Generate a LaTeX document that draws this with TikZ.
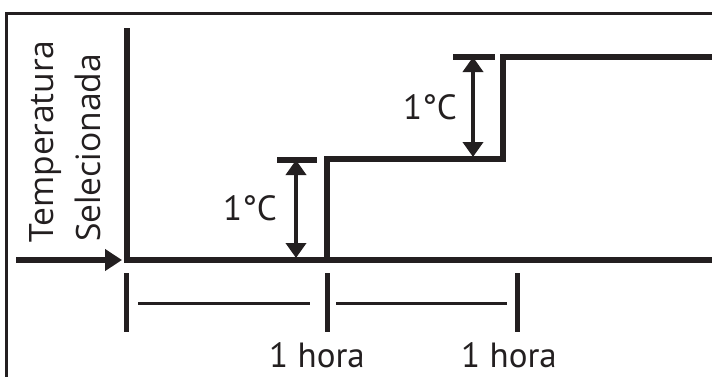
\documentclass[tikz,border=0pt]{standalone}
\usepackage{fontspec}
\setmainfont{PT Sans}
\newfontfamily\axisfont{Open Sans}
\usetikzlibrary{arrows.meta}
\definecolor{ink}{RGB}{35,31,32}

\begin{document}
\begin{tikzpicture}[x=1pt,y=-1pt]
        \tikzset{curve/.style={ink, line width=5.5pt, line join=miter},
                 tick/.style={ink, line width=5pt},
                 span/.style={ink, line width=3pt},
                 bar/.style={ink, line width=6pt},
                 dim/.style={{Triangle[length=15pt, width=20pt]}-{Triangle[length=15pt, width=20pt]}, ink, line width=4pt},
                 hourlabel/.style={ink, inner sep=0pt, font=\fontsize{35}{40}\selectfont}}
        \useasboundingbox (0,0) rectangle (712,376);
        % frame
        \draw[ink, line width=3pt] (6.5,380) -- (6.5,13) -- (716,13);
        % axis and setpoint steps
        \coordinate (origin) at (127,260);
        \draw[curve] (127,28) -- (origin) -- (712,260);
        \draw[curve] (327,260) -- (327,159) -- (503,159) -- (503,57) -- (712,57);
        % input arrow
        \coordinate (in) at (16,260);
        \draw[ink, line width=5.5pt, -{Triangle[length=17pt, width=21pt]}] (in) -- (122,260);
        \node[ink, rotate=90, anchor=base west, inner sep=0pt, font=\axisfont\fontsize{33.6}{40}\selectfont] (temp) at (53,243) {Temperatura};
        \node[ink, rotate=90, anchor=base west, inner sep=0pt, font=\axisfont\fontsize{33.6}{40}\selectfont] (sel) at (100,242) {Selecionada};
        % first step of 1 degree
        \draw[bar] (277,160) -- (317,160);
        \draw[dim] (296,160) -- (296,258);
        \node[hourlabel] (stepA) at (250,208) {1°C};
        % second step of 1 degree
        \draw[bar] (453,57) -- (495,57);
        \draw[dim] (473,57) -- (473,157);
        \node[hourlabel] (stepB) at (430,107) {1°C};
        % time axis
        \foreach \t in {126,327,517}
            \draw[tick] (\t,273) -- (\t,332);
        \draw[span] (138,303) -- (310,303);
        \draw[span] (336,303) -- (507,303);
        \node[hourlabel, anchor=base] (hourA) at (317,367) {1 hora};
        \node[hourlabel, anchor=base] (hourB) at (509,367) {1 hora};
\end{tikzpicture}
\end{document}
